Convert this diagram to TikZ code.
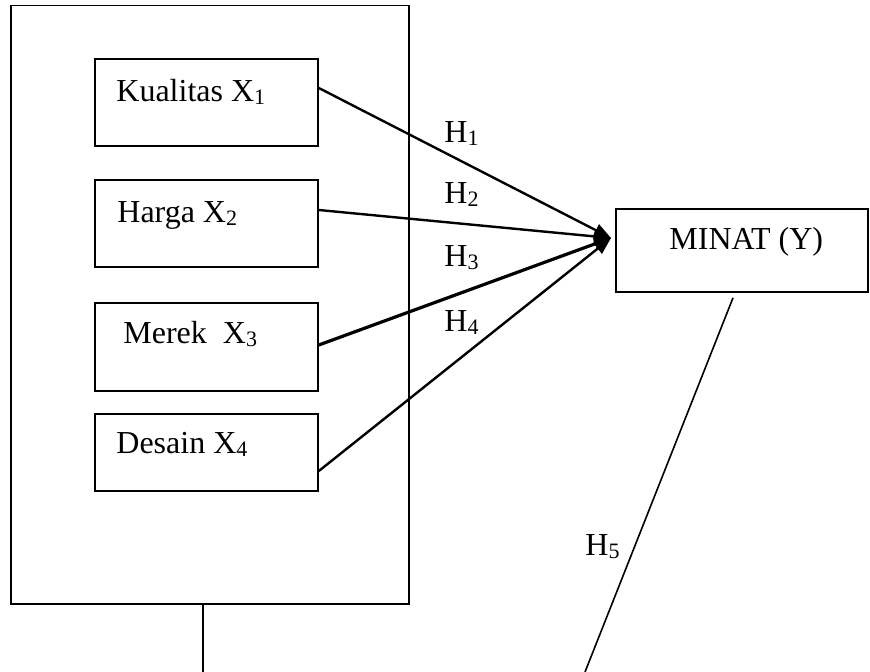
\documentclass[tikz,border=0pt]{standalone}
\usepackage{fontspec}
\setmainfont{Liberation Serif}
\usetikzlibrary{arrows.meta}
\newcommand{\idx}[1]{\raisebox{-1.5pt}{\fontsize{11}{12}\selectfont #1}}

\begin{document}
\begin{tikzpicture}[x=0.5pt, y=-0.5pt, font=\fontsize{16}{19}\selectfont,
  box/.style={draw, line width=0.8pt, inner sep=0pt},
  txt/.style={inner sep=0pt, anchor=base west},
  link/.style={-{Triangle[length=8.5pt,width=6.5pt]}}]
\useasboundingbox (0,0) rectangle (870,672);
% ---- the four variables in one frame ----
\node[box, minimum width=199pt, minimum height=299.25pt] (frame) at (210,304.75) {};
\foreach \n/\cy/\bh/\tx/\ty/\lab [count=\i] in
    {kual/102.5/43.5/116/102/Kualitas, harga/223.5/43.5/117/223/Harga,
     merek/347/44/123/344/{Merek\ }, desain/452.5/38.5/116/453/Desain} {
  \node[box, minimum width=111.5pt, minimum height=\bh pt] (\n) at (206.5,\cy) {};
  \node[txt] (t-\n) at (\tx,\ty) {\lab{} X\idx{\i}};
}
% ---- dependent variable ----
\node[box, minimum width=126pt, minimum height=41.5pt] (minat) at (742,250.5) {};
\node[txt] (t-minat) at (669,250) {MINAT (Y)};
\coordinate (hub) at (611,238);
% ---- hypotheses ----
\foreach \n/\dy/\lw/\hy [count=\i] in
    {kual/7.25/1.2/143, harga/6.75/1.2/204, merek/1/1.6/267, desain/-9.25/1.2/332} {
  \draw[link, line width=\lw pt] ([yshift=\dy pt]\n.east) -- (hub);
  \node[txt] (h\i) at (444,\hy) {H\idx{\i}};
}
\coordinate (stem) at (203,672);
\coordinate (tail) at (585,672);
\draw[line width=0.8pt] (frame.south -| stem) -- (stem);
\draw[line width=0.8pt] ([xshift=-4.5pt, yshift=-2.5pt]minat.south) -- (tail);
\node[txt] (h5) at (585,555) {H\idx{5}};
\end{tikzpicture}
\end{document}
